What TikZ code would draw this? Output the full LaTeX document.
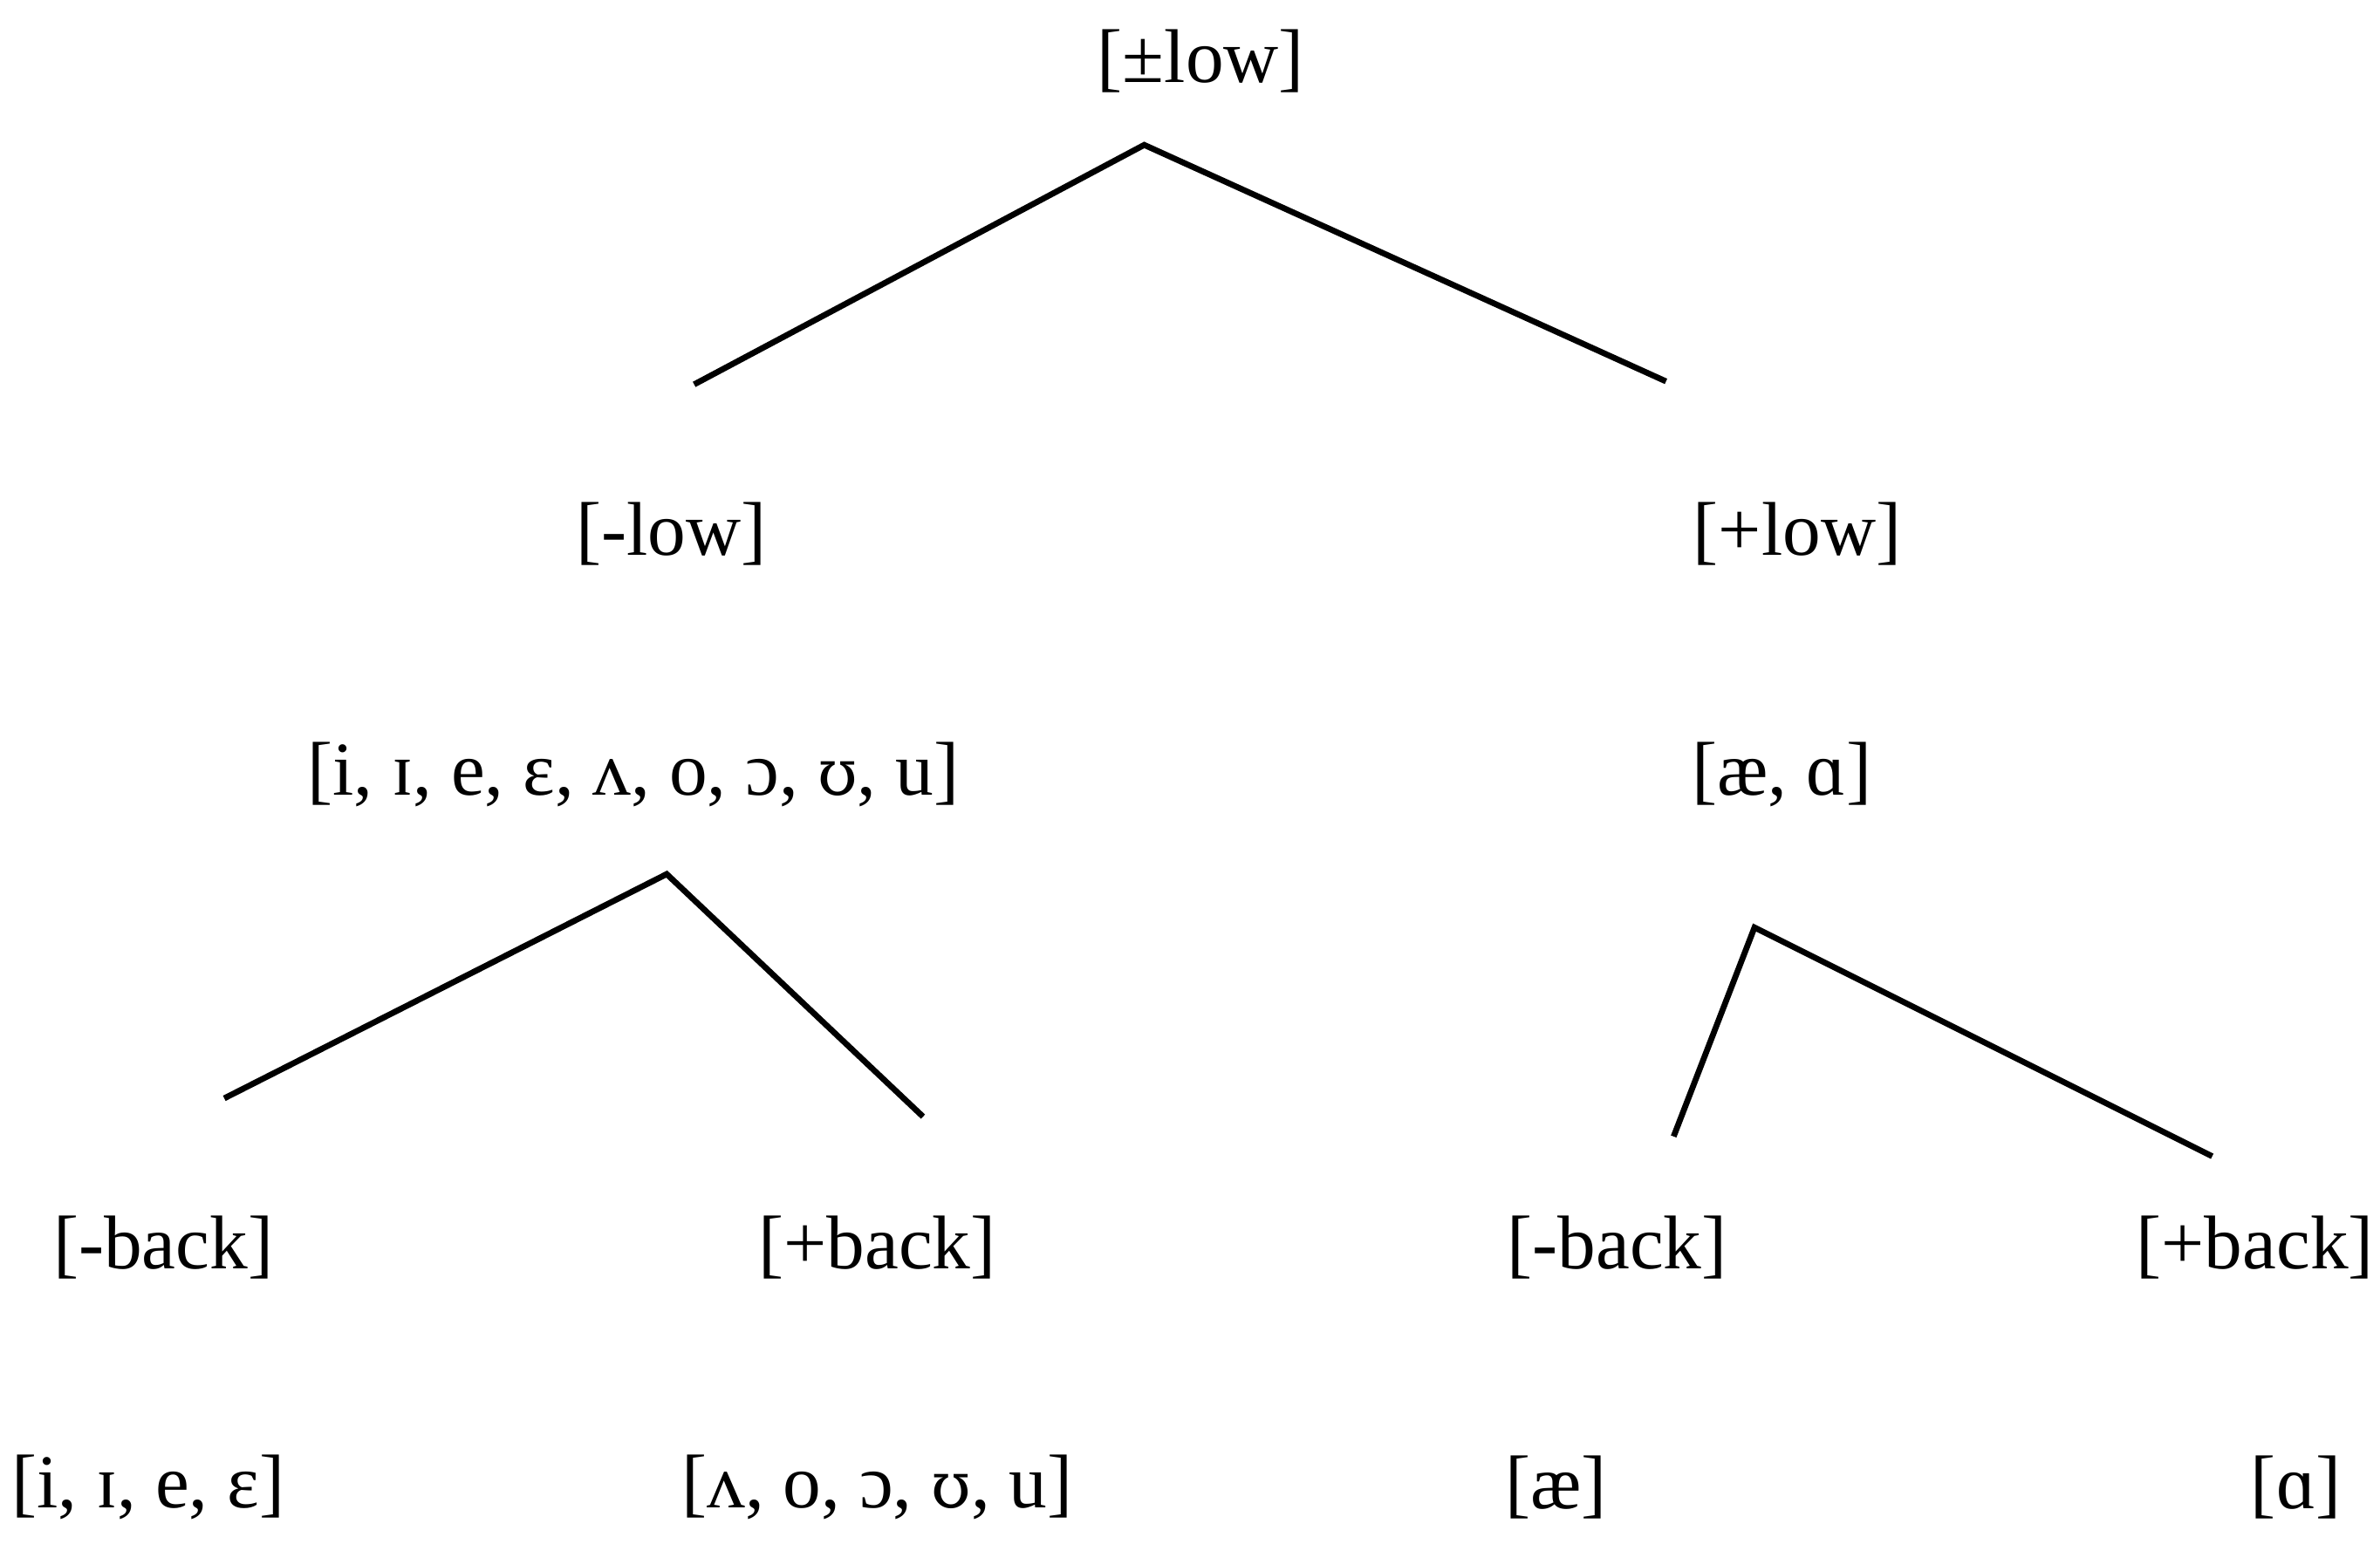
\documentclass[tikz,border=0pt]{standalone}
\usepackage{fontspec}
\setmainfont{Liberation Serif}
\newfontfamily\upsfont{DejaVu Serif}
\newcommand{\ups}{{\upsfont\fontsize{12}{14}\selectfont ʊ}}
\begin{document}
\begin{tikzpicture}[x=0.01cm,y=-0.01cm,
  lab/.style={font=\fontsize{14.2}{17}\selectfont, inner sep=0pt},
  br/.style={line width=1.1pt}]
\useasboundingbox (0,0) rectangle (1560,1012);
\node[lab] (root) at (787,40) {[±low]};
\coordinate (r) at (750,95);
\coordinate (r1) at (455,252);
\coordinate (r2) at (1092,250);
\node[lab] (ml) at (440,350) {[-low]};
\node[lab] (pl) at (1178,350) {[+low]};
\node[lab] (mlv) at (415,508) {[i, ɪ, e, ɛ, ʌ, o, ɔ, \ups, u]};
\node[lab] (plv) at (1168,508) {[æ, ɑ]};
\coordinate (a) at (437,573);
\coordinate (a1) at (147,720);
\coordinate (a2) at (605,732);
\coordinate (b) at (1150,608);
\coordinate (b1) at (1097,745);
\coordinate (b2) at (1450,758);
\node[lab] (mb1) at (107,818) {[-back]};
\node[lab] (pb1) at (575,818) {[+back]};
\node[lab] (mb2) at (1060,818) {[-back]};
\node[lab] (pb2) at (1478,818) {[+back]};
\node[lab] (v1) at (97,975) {[i, ɪ, e, ɛ]};
\node[lab] (v2) at (575,975) {[ʌ, o, ɔ, \ups, u]};
\node[lab] (v3) at (1020,975) {[æ]};
\node[lab] (v4) at (1505,975) {[ɑ]};
\draw[br] (r1) -- (r) -- (r2);
\draw[br] (a1) -- (a) -- (a2);
\draw[br] (b1) -- (b) -- (b2);
\end{tikzpicture}
\end{document}
